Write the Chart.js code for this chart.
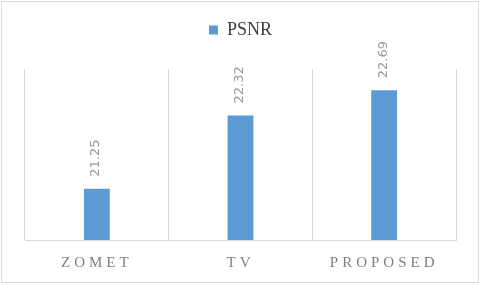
<!DOCTYPE html>
<html>
<head>
<meta charset="utf-8">
<script src="https://cdn.jsdelivr.net/npm/chart.js@4/dist/chart.umd.min.js"></script>
<style>
  html, body { margin: 0; padding: 0; background: #ffffff; }
  #wrap { width: 481px; height: 285px; position: relative; }
</style>
</head>
<body>
<div id="wrap"><canvas id="c" width="481" height="285"></canvas></div>
<script>
const categories = ['ZOMET', 'TV', 'PROPOSED'];
const seriesName = 'PSNR';
const psnrValues = [21.25, 22.32, 22.69];
const yMin = 20.5;
const yMax = 23;

const LEGEND_EXTRA = 20;

const helperPlugin = {
  id: 'helper',
  beforeLayout(chart) {
    const lg = chart.legend;
    if (lg && !lg.__patched) {
      const f = lg.fit;
      lg.fit = function () { f.call(this); this.height += LEGEND_EXTRA; };
      lg.__patched = true;
    }
  },
  afterLayout(chart) {
    const sx = chart.scales.x;
    if (sx && !sx.__patched) {
      const orig = sx.drawLabels;
      sx.drawLabels = function (a) {
        const c = this.ctx;
        const prev = c.letterSpacing;
        c.letterSpacing = '4px';
        orig.call(this, a);
        c.letterSpacing = prev || '0px';
      };
      sx.__patched = true;
    }
  },
  beforeDraw(chart) {
    const c = chart.ctx;
    c.save();
    c.fillStyle = '#ffffff';
    c.fillRect(0, 0, chart.width, chart.height);
    c.strokeStyle = '#d9d9d9';
    c.lineWidth = 1;
    c.strokeRect(1.5, 1.5, chart.width - 4, chart.height - 4);
    c.restore();
  },
  afterDatasetsDraw(chart) {
    const c = chart.ctx;
    const meta = chart.getDatasetMeta(0);
    const data = chart.data.datasets[0].data;
    c.save();
    c.fillStyle = '#999999';
    c.font = '13px "DejaVu Sans"';
    c.textAlign = 'left';
    c.textBaseline = 'middle';
    meta.data.forEach((bar, i) => {
      c.save();
      c.translate(bar.x - 1, bar.y - 12);
      c.rotate(-Math.PI / 2);
      c.fillText(data[i].toFixed(2), 0, 0);
      c.restore();
    });
    c.restore();
  }
};

new Chart(document.getElementById('c'), {
  type: 'bar',
  data: {
    labels: categories,
    datasets: [{
      label: seriesName,
      data: psnrValues,
      backgroundColor: '#5b9bd5',
      borderWidth: 0,
      barPercentage: 0.18,
      categoryPercentage: 1.0
    }]
  },
  options: {
    responsive: false,
    animation: false,
    devicePixelRatio: 1,
    layout: { padding: { top: 10, left: 25, right: 25, bottom: -1 } },
    plugins: {
      legend: {
        display: true,
        position: 'top',
        labels: {
          boxWidth: 9,
          boxHeight: 9,
          padding: 11,
          color: '#404040',
          font: { family: 'Liberation Serif', size: 18 }
        }
      },
      tooltip: { enabled: false }
    },
    scales: {
      x: {
        grid: { display: true, color: '#d9d9d9', lineWidth: 1, drawTicks: false, offset: true },
        border: { display: true, color: '#d9d9d9', width: 1 },
        ticks: {
          color: '#7f7f7f',
          padding: 14,
          font: { family: 'Liberation Serif', size: 15 }
        }
      },
      y: {
        display: false,
        min: yMin,
        max: yMax
      }
    }
  },
  plugins: [helperPlugin]
});
</script>
</body>
</html>
